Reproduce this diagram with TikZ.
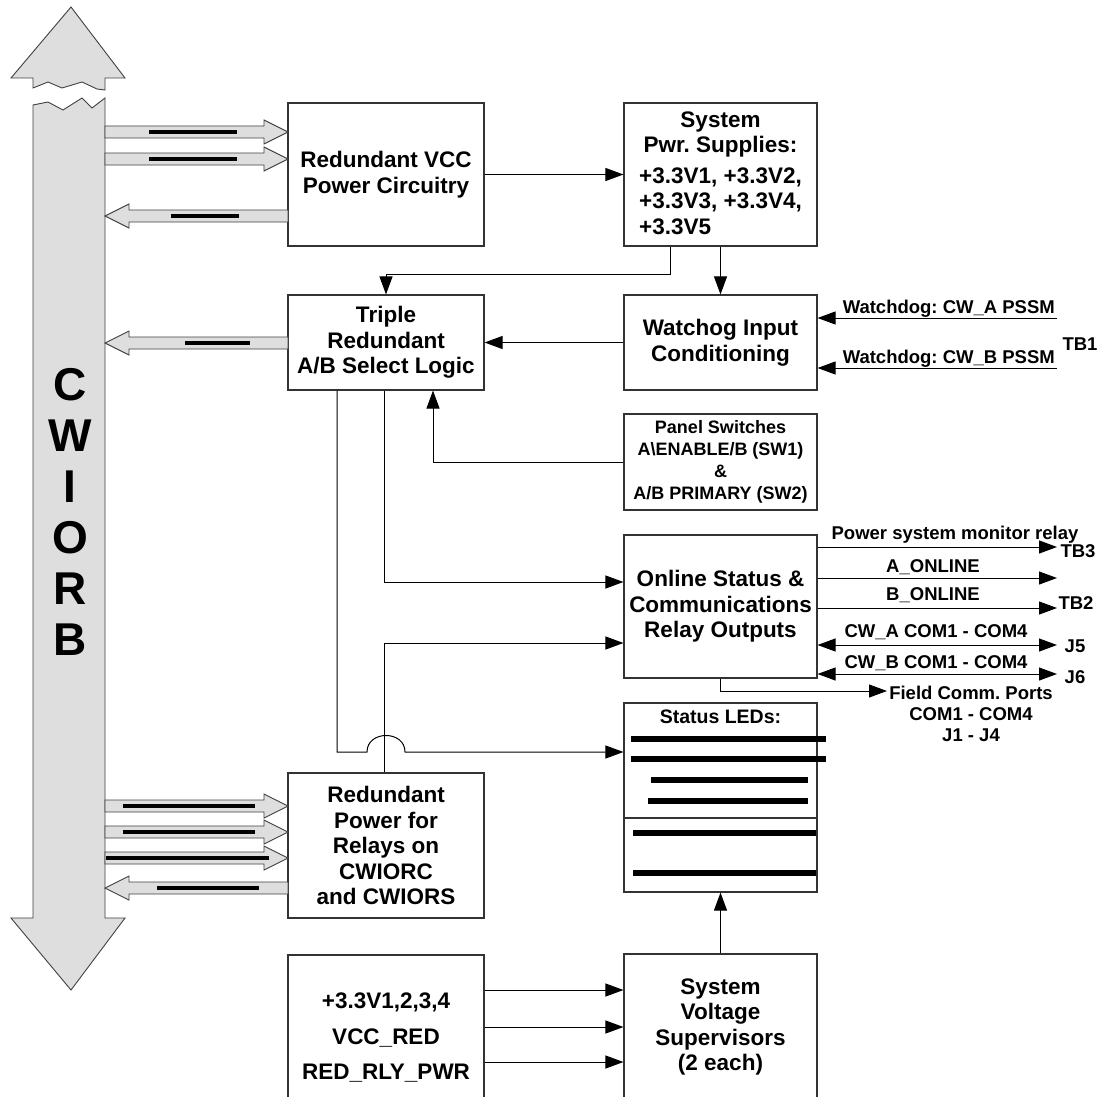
\documentclass[tikz,border=0pt]{standalone}
\usepackage{fontspec}
\setmainfont{Liberation Sans}
\usetikzlibrary{arrows.meta, positioning}
\frenchspacing
% fat bus arrow: y, tail x, tip x, bar from, bar to
\newcommand{\fatpil}[5]{%
  \pgfmathsetmacro{\hodx}{#3>#2 ? #3-24 : #3+24}%
  \draw[buss] (#2,#1-6) -- (\hodx,#1-6) -- (\hodx,#1-12) -- (#3,#1)
    -- (\hodx,#1+12) -- (\hodx,#1+6) -- (#2,#1+6) -- cycle;
  \fill (#4,#1-2) rectangle (#5,#1+2);}

\begin{document}
\begin{tikzpicture}[
    x=1pt, y=-1pt,
    >={Triangle[length=18pt,width=13pt]},
    boks/.style = {rectangle, draw=black!80, line width=1.1pt, align=center, inner sep=0pt,
                   font=\fontsize{22.5}{25.5}\selectfont\bfseries},
    venstre/.style = {boks, minimum width=196pt},
    hoyre/.style = {boks, minimum width=193pt},
    pil/.style = {black, line width=1pt, ->},
    buss/.style = {draw=black!75, line width=0.9pt, fill=black!13},
    lbl/.style = {inner sep=0pt, font=\fontsize{18.5}{21}\selectfont\bfseries},
    led/.style = {line width=6pt},
    ]
  \useasboundingbox (0,0) rectangle (1097,1097);
  \clip (0,0) rectangle (1097,1097);

  % the bus
  \draw[buss] (33,78) -- (11,78) -- (71,7) -- (125,78) -- (105,78) -- (105,90)
    -- (97,89) -- (82,82) -- (62,88) -- (48,82) -- (33,88) -- cycle;
  \draw[buss] (33,105) -- (48,102) -- (63,110) -- (82,98) -- (92,108) -- (105,98)
    -- (105,918) -- (125,918) -- (71,990) -- (11,918) -- (33,918) -- cycle;
  \node[inner sep=0pt, align=center, font=\fontsize{46}{51}\selectfont\bfseries] (cwiorb) at (70,512)
    {C\\W\\I\\O\\R\\B};

  \node[venstre, minimum height=143pt] (vcc) at (386,174.5) {Redundant VCC\\Power Circuitry};
  \node[hoyre, minimum height=143pt] (pwr) at (720.5,174.5)
    {System\\Pwr. Supplies:\\[5pt]+3.3V1, +3.3V2,\\+3.3V3, +3.3V4,\\\rlap{+3.3V5}\phantom{+3.3V3, +3.3V4,}};
  \node[venstre, minimum height=95pt] (triple) at (386,342.5) {Triple\\Redundant\\A/B Select Logic};
  \node[hoyre, minimum height=95pt] (wdog) at (720.5,342.5) {Watchog Input\\Conditioning};
  \node[hoyre, minimum height=96pt, font=\fontsize{18}{22}\selectfont\bfseries] (panel) at (720.5,462)
    {Panel Switches\\A\textbackslash ENABLE/B (SW1)\\\&\\A/B PRIMARY (SW2)};
  \node[hoyre, minimum height=143pt] (online) at (720.5,606.5)
    {Online Status \&\\Communications\\Relay Outputs};
  \node[hoyre, minimum height=189pt] (status) at (720.5,797.5) {};
  \node[venstre, minimum height=145pt] (redpwr) at (386,845.5)
    {Redundant\\Power for\\Relays on\\CWIORC\\and CWIORS};
  \node[venstre, minimum height=166pt, font=\fontsize{22.5}{35.5}\selectfont\bfseries] (vlist) at (386,1038)
    {+3.3V1,2,3,4\\VCC\_RED\\RED\_RLY\_PWR};
  \node[hoyre, minimum height=146pt] (sup) at (720.5,1027)
    {System\\Voltage\\Supervisors\\(2 each)};

  % bus arrows
  \fatpil{132}{105}{288}{149}{237}
  \fatpil{159}{105}{288}{149}{237}
  \fatpil{216}{288}{105}{171}{239}
  \fatpil{343}{288}{105}{185}{250}
  \fatpil{806}{105}{288}{123}{255}
  \fatpil{832}{105}{288}{123}{255}
  \fatpil{858}{105}{288}{106}{269}
  \fatpil{888}{288}{105}{157}{259}

  \draw[pil] (vcc) -- (pwr);
  \draw[pil] ([xshift=-50pt]pwr.south) -- ++(0,28) -| (triple);
  \draw[pil] (pwr) -- (wdog);
  \draw[pil] (wdog) -- (triple);
  \draw[pil] (panel.west) -| ([xshift=47pt]triple.south);
  \draw[pil] ([xshift=-2pt]triple.south) |- ([yshift=24.5pt]online.west);
  \draw[pil] ([xshift=-2pt]redpwr.north) |- ([yshift=-36.5pt]online.west);
  \draw[pil] ([xshift=-49pt]triple.south) |- (367,752) .. controls (367,730) and (405,730) .. (405,752)
    -- ([yshift=45.5pt]status.west);

  % watchdog inputs
  \coordinate (wa) at (1057,318);
  \coordinate (wb) at (1057,368);
  \draw[pil] (wa) -- (wa -| wdog.east);
  \draw[pil] (wb) -- (wb -| wdog.east);
  \node[lbl, anchor=base east] (walbl) at (1055,313) {Watchdog: CW\_A PSSM};
  \node[lbl, anchor=base east] (wblbl) at (1055,363) {Watchdog: CW\_B PSSM};
  \node[lbl] (tb1) at (1080,344) {TB1};

  % online outputs
  \coordinate (tb3) at (1057,547);
  \coordinate (aon) at (1057,578);
  \coordinate (bon) at (1057,608);
  \coordinate (j5) at (1057,645);
  \coordinate (j6) at (1057,674);
  \coordinate (felt) at (887,691);
  \draw[pil] (online.east |- tb3) -- (tb3);
  \draw[pil] (online.east |- aon) -- (aon);
  \draw[pil] (online.east |- bon) -- (bon);
  \draw[pil, <->] (online.east |- j5) -- (j5);
  \draw[pil, <->] (online.east |- j6) -- (j6);
  \draw[pil] (online.south) |- (felt);
  \node[lbl] (pmlbl) at (955,535) {Power system monitor relay};
  \node[lbl] (tb3lbl) at (1078,551) {TB3};
  \node[lbl] (aonlbl) at (933,567) {A\_ONLINE};
  \node[lbl] (bonlbl) at (933,595) {B\_ONLINE};
  \node[lbl] (tb2lbl) at (1076,603) {TB2};
  \node[lbl] (calbl) at (936,632) {CW\_A COM1 - COM4};
  \node[lbl] (j5lbl) at (1075,646) {J5};
  \node[lbl] (cblbl) at (936,663) {CW\_B COM1 - COM4};
  \node[lbl] (j6lbl) at (1075,677) {J6};
  \node[lbl, align=center] (feltlbl) at (971,714) {Field Comm. Ports\\COM1 - COM4\\J1 - J4};

  % status LEDs
  \node[lbl, font=\fontsize{19.5}{22}\selectfont\bfseries] (ledlbl) at (720.5,717) {Status LEDs:};
  \draw[led] (631,739) -- (826,739);
  \draw[led] (631,759) -- (826,759);
  \draw[led] (651,780) -- (808,780);
  \draw[led] (648,801) -- (808,801);
  \draw[draw=black!80, line width=1.1pt] (status.west |- 0,818) -- (status.east |- 0,818);
  \draw[led] (633,833) -- (816,833);
  \draw[led] (633,873) -- (816,873);

  \draw[pil] (sup) -- (status);
  \draw[pil] (vlist.east |- 0,990) -- (sup.west |- 0,990);
  \draw[pil] (vlist.east |- 0,1027) -- (sup.west |- 0,1027);
  \draw[pil] (vlist.east |- 0,1062) -- (sup.west |- 0,1062);
\end{tikzpicture}
\end{document}
